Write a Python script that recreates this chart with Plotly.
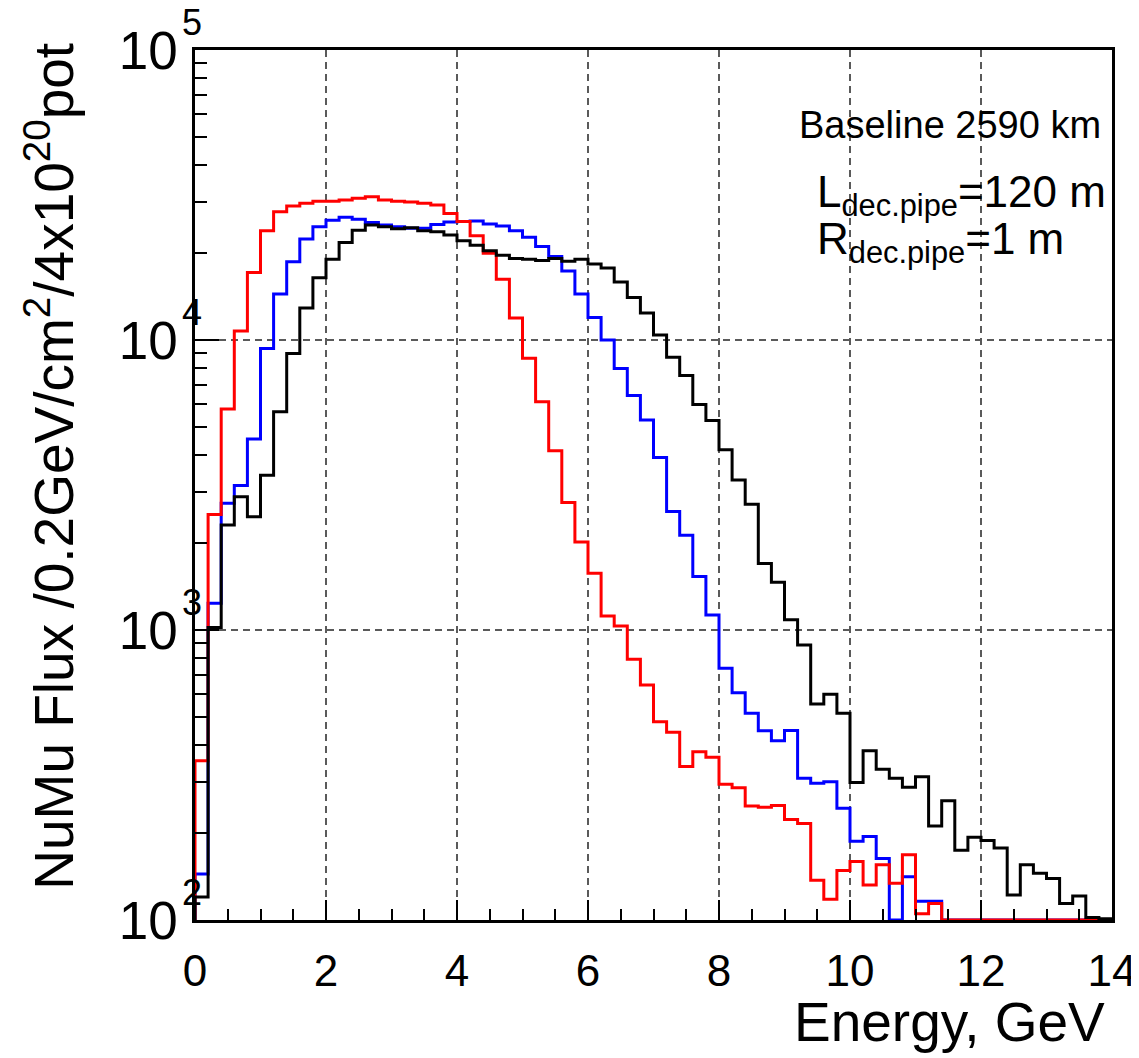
import numpy as np
import plotly.graph_objects as go

# ---- data (NuMu flux per 0.2 GeV bin, 0-14 GeV) ----
bin_width = 0.2
n_bins = 70
edges = [round(i * bin_width, 1) for i in range(n_bins + 1)]

red = [354, 2500, 5780, 10750, 17100, 23800, 27700, 29000, 29600, 30100,
       30100, 30400, 30800, 31200, 30400, 30100, 29900, 29600, 29200, 27300,
       25600, 22900, 19900, 16200, 11900, 8650, 6120, 4150, 2750, 2010,
       1570, 1117, 1032, 793, 646, 483, 444, 338, 380, 364,
       294, 286, 247, 245, 248, 222, 215, 137, 118, 148,
       159, 132, 155, 134, 168, 105, 114, 0, 0, 0,
       0, 0, 0, 0, 0, 0, 0, 0, 0, 0]

blue = [144, 1236, 2736, 3150, 4560, 9350, 14400, 18600, 22300, 24600,
        25900, 26500, 26100, 25400, 24900, 24600, 24300, 24300, 25000, 25500,
        25600, 25700, 25100, 24700, 23800, 22600, 21000, 19400, 17300, 14400,
        11950, 10000, 7970, 6430, 5300, 3935, 2560, 2120, 1530, 1127,
        738, 608, 516, 449, 415, 450, 308, 296, 300, 243,
        187, 194, 163, 0, 141, 116, 116, 0, 0, 0,
        0, 0, 0, 0, 0, 0, 0, 0, 0, 0]

black = [120, 1021, 2300, 2880, 2460, 3420, 5660, 8990, 12900, 16400,
         19000, 21700, 23900, 24900, 24600, 24200, 24400, 23800, 23600, 23000,
         22000, 21200, 20300, 19600, 19100, 19000, 18800, 19100, 18700, 19000,
         18300, 17700, 15850, 14000, 12400, 10400, 8720, 7550, 5990, 5280,
         4180, 3290, 2715, 1695, 1460, 1085, 887, 556, 601, 516,
         298, 383, 331, 308, 287, 312, 211, 258, 174, 193,
         188, 177, 122, 155, 145, 139, 114, 121, 102, 101]

series = [("blue", blue), ("red", red), ("black", black)]

y_decades = [2, 3, 4, 5]          # y axis: 10^2 .. 10^5
x_min, x_max = 0, 14
y_min = 10.0 ** y_decades[0]

FONT = "Liberation Sans"

fig = go.Figure()

for color, vals in series:
    v = np.clip(np.array(vals, dtype=float), y_min, None)
    # ROOT-like histogram outline: rise from floor, steps, drop to floor
    xs = [edges[0]] + edges[:-1] + [edges[-1], edges[-1]]
    ys = [y_min] + list(v) + [v[-1], y_min]
    fig.add_trace(go.Scatter(
        x=xs, y=ys, mode="lines",
        line=dict(color=color, width=3, shape="hv"),
        showlegend=False, hoverinfo="skip",
    ))

major_y = [10.0 ** d for d in y_decades]
minor_y = [m * 10.0 ** d for d in y_decades[:-1] for m in range(2, 10)]

# page body adds an 8px offset; margins compensate so the frame sits
# at x 195..1112, y 50..920 in the screenshot
fig.update_layout(
    width=1139, height=1058,
    margin=dict(l=187, r=35, t=42, b=146, autoexpand=False),
    paper_bgcolor="white", plot_bgcolor="white",
    font=dict(family=FONT, color="black"),
    showlegend=False,
)

fig.update_xaxes(
    range=[x_min, x_max], automargin=False,
    tickmode="linear", tick0=0, dtick=2,
    ticks="inside", ticklen=20, tickwidth=2, tickcolor="black",
    minor=dict(ticks="inside", ticklen=11, tickwidth=2, tickcolor="black",
               dtick=0.5, showgrid=False),
    showgrid=True, gridcolor="#5a5a5a", gridwidth=1.5, griddash="7px,5px",
    showline=True, linecolor="black", linewidth=2.5, mirror=True,
    tickfont=dict(size=44, family=FONT),
    ticklabelstandoff=10,
    zeroline=False,
)

fig.update_yaxes(
    type="log", range=[y_decades[0], y_decades[-1]], automargin=False,
    tickmode="array", tickvals=major_y,
    ticktext=["10" for _ in major_y],
    ticks="inside", ticklen=24, tickwidth=2, tickcolor="black",
    minor=dict(ticks="inside", ticklen=12, tickwidth=2, tickcolor="black",
               tickmode="array", tickvals=minor_y, showgrid=False),
    showgrid=True, gridcolor="#5a5a5a", gridwidth=1.5, griddash="7px,5px",
    showline=True, linecolor="black", linewidth=2.5, mirror=True,
    tickfont=dict(size=53, family=FONT),
    ticklabelstandoff=4,
    zeroline=False,
)

annotations = []
# exponents of the "10^n" tick labels, raised like ROOT draws them
span = y_decades[-1] - y_decades[0]
for d in y_decades:
    annotations.append(dict(
        text=str(d), xref="paper", yref="paper", x=-0.003,
        y=(d - y_decades[0]) / span,
        xanchor="center", yanchor="middle", yshift=28,
        showarrow=False, font=dict(size=36, family=FONT)))

annotations += [
    dict(text="NuMu Flux /0.2GeV/cm<sup>2</sup>/4x10<sup>20</sup>pot",
         xref="paper", yref="paper", x=-0.159, y=1.0103,
         xanchor="center", yanchor="top", textangle=-90,
         showarrow=False, font=dict(size=55, family=FONT)),
    dict(text="Energy, GeV",
         xref="paper", yref="paper", x=0.9945, y=-0.117,
         xanchor="right", yanchor="middle",
         showarrow=False, font=dict(size=55, family=FONT)),
    dict(text="Baseline 2590 km",
         xref="paper", yref="paper", x=0.990, y=0.914,
         xanchor="right", yanchor="middle",
         showarrow=False, font=dict(size=38, family=FONT)),
    dict(text="L<sub>dec.pipe</sub>=120 m",
         xref="paper", yref="paper", x=0.676, y=(920 - 195) / 870,
         xanchor="left", yanchor="middle",
         showarrow=False, font=dict(size=44, family=FONT)),
    dict(text="R<sub>dec.pipe</sub>=1 m",
         xref="paper", yref="paper", x=0.676, y=(920 - 242) / 870,
         xanchor="left", yanchor="middle",
         showarrow=False, font=dict(size=44, family=FONT)),
]
fig.update_layout(annotations=annotations)

fig.write_html("out.html")
